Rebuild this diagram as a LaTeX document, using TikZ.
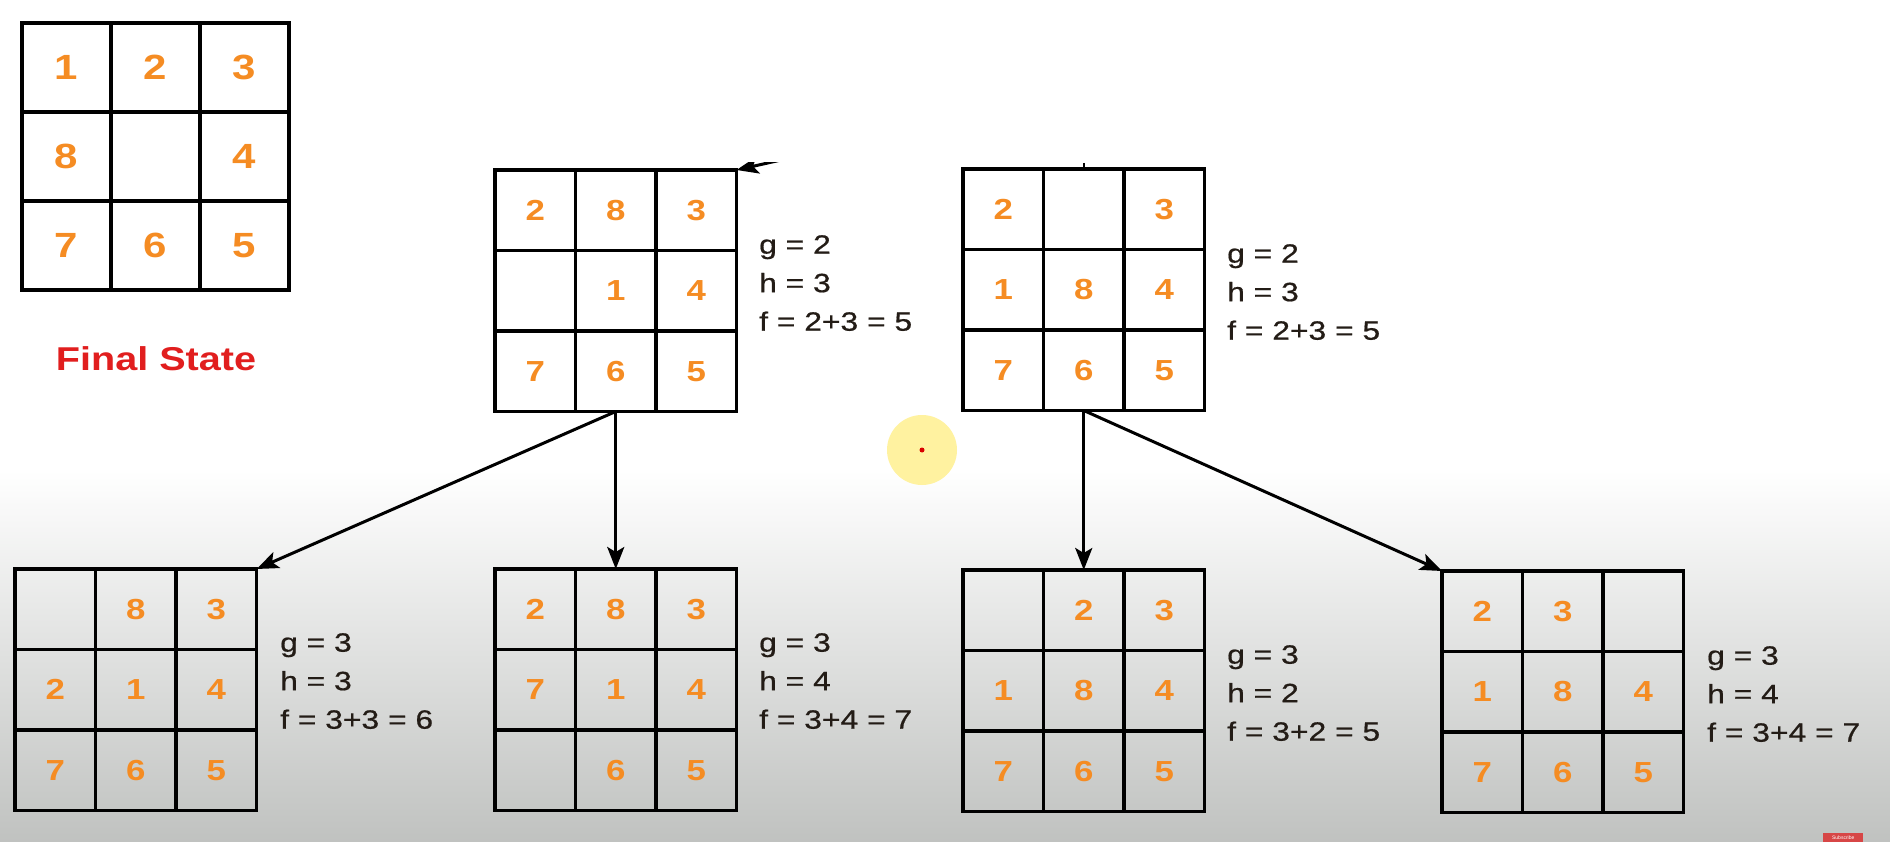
\documentclass[tikz,border=0pt]{standalone}
\usepackage{fontspec}
\setmainfont{Liberation Sans}
\newfontfamily\widesans[FakeStretch=1.2]{Liberation Sans}
\newfontfamily\widesansheavy[FakeStretch=1.2,FakeBold=0.6]{Liberation Sans}
\usetikzlibrary{calc,arrows.meta}

\definecolor{tileorange}{RGB}{245,140,35}
\definecolor{labelred}{RGB}{225,30,30}
\definecolor{inktext}{RGB}{35,28,22}
\definecolor{floorgray}{RGB}{192,194,192}
\definecolor{spotyellow}{RGB}{255,242,160}
\definecolor{subred}{RGB}{215,70,70}

\def\tilept{29}
\tikzset{
  gridbox/.style={draw=black, line width=3.2pt, inner sep=0pt, outer sep=0pt, anchor=north west},
  gridline/.style={line width=3.2pt},
  tile/.style={text=tileorange, font=\widesans\bfseries\fontsize{\tilept}{\tilept}\selectfont, inner sep=0pt},
  costs/.style={text=inktext, font=\widesansheavy\fontsize{26.5}{38.5}\selectfont, align=left, anchor=north west, inner sep=0pt},
  move/.style={line width=3pt, -{Stealth[length=22pt,width=17pt,inset=5pt]}},
}

% 3x3 puzzle board: #1 name, #2 x, #3 y (top-left), #4 cell size, #5 tiles row by row
\newcommand\puzzle[5]{%
  \node[gridbox, minimum width=3*#4pt, minimum height=3*#4pt] (#1) at (#2,#3) {};
  \foreach \k in {1,2}{
    \draw[gridline] ($(#1.north west)+(\k*#4,0)$) -- ($(#1.south west)+(\k*#4,0)$);
    \draw[gridline] ($(#1.north west)+(0,\k*#4)$) -- ($(#1.north east)+(0,\k*#4)$);
  }
  \foreach \v [count=\i from 0] in {#5}{
    \pgfmathtruncatemacro\prow{\i/3}
    \pgfmathtruncatemacro\pcol{\i-3*\prow}
    \node[tile] at ($(#1.north west)+({(\pcol+0.5)*#4},{(\prow+0.5)*#4})$) {\v};
  }
}

\begin{document}
\begin{tikzpicture}[x=1pt,y=-1pt]
\useasboundingbox (0,0) rectangle (1890,842);
\fill[white] (0,0) rectangle (1890,842);
\shade[top color=white, bottom color=floorgray] (0,470) rectangle (1890,842);

% goal configuration
\def\tilept{35}
\puzzle{goal}{22}{23}{89}{1,2,3,8,{},4,7,6,5}
\def\tilept{29}
\node[font=\widesans\bfseries\fontsize{33}{33}\selectfont, text=labelred, anchor=base, inner sep=0pt] (goallabel) at (156,370) {Final State};

% expanded states
\puzzle{s1}{495}{170}{80.5}{2,8,3,{},1,4,7,6,5}
\puzzle{s2}{963}{169}{80.5}{2,{},3,1,8,4,7,6,5}

% successors
\puzzle{c1}{15}{569}{80.5}{{},8,3,2,1,4,7,6,5}
\puzzle{c2}{495}{569}{80.5}{2,8,3,7,1,4,{},6,5}
\puzzle{c3}{963}{570}{80.5}{{},2,3,1,8,4,7,6,5}
\puzzle{c4}{1442}{571}{80.5}{2,3,{},1,8,4,7,6,5}

% cost annotations
\node[costs] (s1cost) at (759,235) {g = 2\\h = 3\\f = 2+3 = 5};
\node[costs] (s2cost) at (1227,244) {g = 2\\h = 3\\f = 2+3 = 5};
\node[costs] (c1cost) at (280,633) {g = 3\\h = 3\\f = 3+3 = 6};
\node[costs] (c2cost) at (759,633) {g = 3\\h = 4\\f = 3+4 = 7};
\node[costs] (c3cost) at (1227,645) {g = 3\\h = 2\\f = 3+2 = 5};
\node[costs] (c4cost) at (1707,646) {g = 3\\h = 4\\f = 3+4 = 7};

% moves
\draw[move] (s1.south) -- (c1.north east);
\draw[move] (s1.south) -- (c2.north);
\draw[move] (s2.south) -- (c3.north);
\draw[move] (s2.south) -- (c4.north west);

% incoming edges from the parent level, cut off at the top
\coordinate (inS1) at (790,158);
\coordinate (inS2) at (963+120.75,163);
\begin{scope}
  \clip (700,163) rectangle (820,200);
  \draw[move] (inS1) -- (s1.north east);
\end{scope}
\draw[line width=2pt] (inS2) -- (s2.north);

% pointer highlight
\fill[spotyellow] (922,450) circle (35pt);
\fill[red!85!black] (922,450) circle (2.5pt);

% subscribe badge
\node[fill=subred, text=white, font=\fontsize{5}{5}\selectfont, inner sep=1pt, minimum width=40pt, minimum height=9pt, anchor=south west] (subscribe) at (1823,842) {Subscribe};
\end{tikzpicture}
\end{document}
